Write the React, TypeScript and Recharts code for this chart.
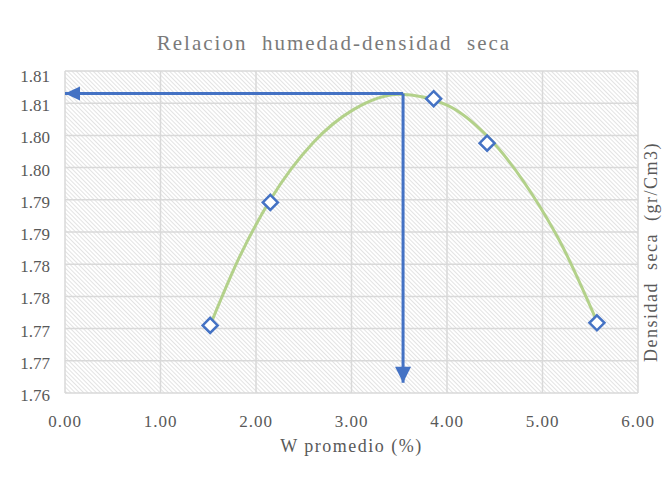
import React from "react";
import { ComposedChart, XAxis, YAxis, CartesianGrid, Scatter, Line } from "recharts";

// ensayo proctor: humedad promedio vs densidad seca
const wPromedio = [1.52, 2.15, 3.86, 4.42, 5.57];
const densidadSeca = [1.7705, 1.7896, 1.8057, 1.7988, 1.7709];

// curva de tendencia
const trendW = [1.52, 1.83, 2.15, 2.6, 3.02, 3.5, 4.0, 4.42, 4.97, 5.18, 5.57];
const trendD = [1.7705, 1.7812, 1.79, 1.7989, 1.804, 1.8064, 1.8047, 1.7999, 1.789, 1.7836, 1.7711];

// humedad optima / densidad maxima (flechas)
const wOptima = 3.54;
const dMaxima = 1.8065;
const dFlechaFin = 1.7616;
const wFlechaFin = 0;

const xTicks = [0, 1, 2, 3, 4, 5, 6];
const yTicks = [1.76, 1.765, 1.77, 1.775, 1.78, 1.785, 1.79, 1.795, 1.8, 1.805, 1.81];
const yTickLabels = ["1.76", "1.77", "1.77", "1.78", "1.78", "1.79", "1.79", "1.80", "1.80", "1.81", "1.81"];

const puntos = wPromedio.map((x, i) => ({ x, y: densidadSeca[i] }));
const tendencia = trendW.map((x, i) => ({ x, y: trendD[i] }));
const flechaH = [{ x: wOptima, y: dMaxima }, { x: wFlechaFin, y: dMaxima }];
const flechaV = [{ x: wOptima, y: dMaxima }, { x: wOptima, y: dFlechaFin }];

const FONT = "'Liberation Serif', 'Times New Roman', serif";
const TEXT = "#595959";
const BLUE = "#4472C4";
const GREEN = "#b3d18a";
const GRID = "#d9d9d9";

const Diamond = (p: any) => {
  const { cx, cy } = p;
  if (cx == null || cy == null) return <g />;
  const r = 7.5;
  return (
    <path
      d={`M${cx},${cy - r} L${cx + r},${cy} L${cx},${cy + r} L${cx - r},${cy} Z`}
      fill="#ffffff"
      stroke={BLUE}
      strokeWidth={2.5}
    />
  );
};

const arrowHead = (dir: "left" | "down") => (p: any) => {
  const { cx, cy, index } = p;
  const key = `${dir}-${index}`;
  if (index !== 1 || cx == null) return <g key={key} />;
  const pts =
    dir === "left"
      ? `${cx},${cy} ${cx + 15},${cy - 7} ${cx + 15},${cy + 7}`
      : `${cx},${cy} ${cx - 8},${cy - 16} ${cx + 8},${cy - 16}`;
  return <polygon key={key} points={pts} fill={BLUE} />;
};

// las etiquetas del eje Y van un poco por debajo de la linea; la de arriba algo mas
const YTick = (p: any) => {
  const { x, y, payload, index } = p;
  const dy = index === yTicks.length - 1 ? 11 : 8;
  return (
    <text x={x} y={y + dy} textAnchor="end" fontSize={17} fontFamily={FONT} fill={TEXT}>
      {yTickLabels[index] ?? String(payload.value)}
    </text>
  );
};

export default function App() {
  return (
    <div style={{ margin: -8, width: 670, height: 478, background: "#fff", fontFamily: FONT }}>
      <ComposedChart width={670} height={478} margin={{ top: 71, right: 32, left: 15, bottom: 25 }}>
        <defs>
          <pattern id="hatch" width="3" height="3" patternUnits="userSpaceOnUse" patternTransform="rotate(-45)">
            <rect width="3" height="3" fill="#ffffff" />
            <line x1="0" y1="0" x2="0" y2="3" stroke="#d0d0d0" strokeWidth="1.2" />
          </pattern>
        </defs>
        <path d="M6.5 470 V6.5 H670" fill="none" stroke="#d9d9d9" strokeWidth={1} />
        <text
          x={334}
          y={50}
          textAnchor="middle"
          fontSize={21}
          letterSpacing={2}
          fill="#7a7a7a"
          fontFamily={FONT}
          style={{ whiteSpace: "pre" }}
        >
          {"Relacion  humedad-densidad  seca"}
        </text>
        <text
          x={657}
          y={252}
          transform="rotate(-90, 657, 252)"
          textAnchor="middle"
          fontSize={18}
          letterSpacing={1.5}
          fill={TEXT}
          fontFamily={FONT}
          style={{ whiteSpace: "pre" }}
        >
          {"Densidad  seca  (gr/Cm3)"}
        </text>
        <CartesianGrid fill="url(#hatch)" fillOpacity={1} stroke={GRID} strokeWidth={1.5} />
        <XAxis
          dataKey="x"
          type="number"
          domain={[0, 6]}
          ticks={xTicks}
          interval={0}
          tickFormatter={(v: number) => v.toFixed(2)}
          axisLine={false}
          tickLine={false}
          tickSize={0}
          tickMargin={22}
          height={60}
          tick={{ fill: TEXT, fontSize: 17, fontFamily: FONT, letterSpacing: 1 }}
          label={{
            value: "W promedio (%)",
            position: "insideBottom",
            offset: 1,
            fill: TEXT,
            fontSize: 18,
            fontFamily: FONT,
            letterSpacing: 1.5,
          }}
        />
        <YAxis
          dataKey="y"
          type="number"
          domain={[1.76, 1.81]}
          ticks={yTicks}
          interval={0}
          axisLine={false}
          tickLine={false}
          tickSize={0}
          tickMargin={15}
          width={50}
          tick={YTick}
        />
        <Scatter data={puntos} shape={Diamond} isAnimationActive={false} />
        <Line
          data={tendencia}
          dataKey="y"
          type="monotone"
          stroke={GREEN}
          strokeWidth={3}
          dot={false}
          activeDot={false}
          isAnimationActive={false}
        />
        <Line
          data={flechaH}
          dataKey="y"
          type="linear"
          stroke={BLUE}
          strokeWidth={3}
          dot={arrowHead("left")}
          activeDot={false}
          isAnimationActive={false}
        />
        <Line
          data={flechaV}
          dataKey="y"
          type="linear"
          stroke={BLUE}
          strokeWidth={3}
          dot={arrowHead("down")}
          activeDot={false}
          isAnimationActive={false}
        />
      </ComposedChart>
    </div>
  );
}
